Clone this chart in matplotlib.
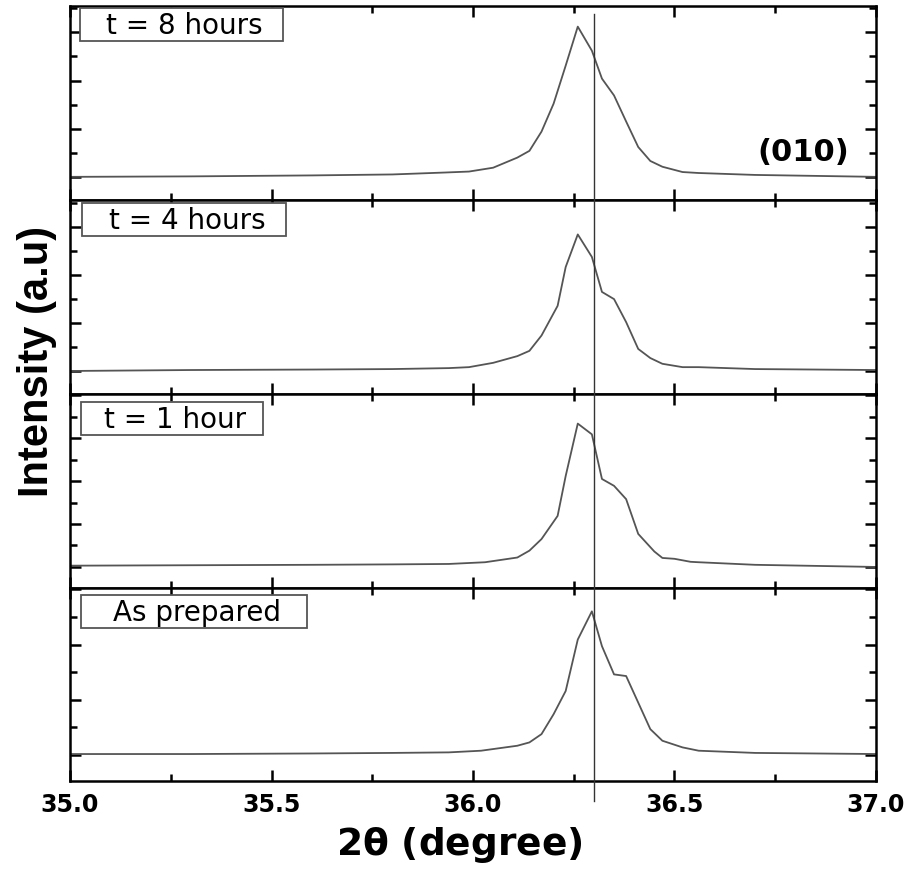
import matplotlib.pyplot as plt
from matplotlib.ticker import MultipleLocator
from matplotlib.patches import Rectangle
import matplotlib.transforms as mtransforms

plt.rcParams['font.family'] = ['DejaVu Sans']

# XRD (010) peak, four annealing times, top to bottom
labels = ['t = 8 hours', 't = 4 hours', 't = 1 hour', 'As prepared']

x_8h = [35.00, 35.30, 35.60, 35.80, 35.93, 35.99, 36.05, 36.11, 36.14, 36.17, 36.20, 36.23,
        36.26, 36.295, 36.32, 36.35, 36.38, 36.41, 36.44, 36.47, 36.52, 36.56, 36.70, 37.00]
y_8h = [0.00, 0.01, 0.03, 0.05, 0.09, 0.11, 0.19, 0.40, 0.54, 0.94, 1.52, 2.31,
        3.12, 2.62, 2.04, 1.69, 1.15, 0.62, 0.33, 0.21, 0.10, 0.08, 0.04, 0.00]

x_4h = [35.00, 35.30, 35.60, 35.80, 35.94, 35.99, 36.05, 36.11, 36.14, 36.17, 36.21, 36.23,
        36.26, 36.295, 36.32, 36.35, 36.38, 36.41, 36.44, 36.47, 36.52, 36.56, 36.70, 37.00]
y_4h = [0.00, 0.02, 0.03, 0.04, 0.06, 0.08, 0.17, 0.31, 0.42, 0.74, 1.36, 2.17,
        2.85, 2.38, 1.65, 1.50, 1.02, 0.46, 0.27, 0.15, 0.08, 0.08, 0.04, 0.02]

x_1h = [35.00, 35.30, 35.60, 35.80, 35.94, 36.03, 36.11, 36.14, 36.17, 36.21, 36.23, 36.26,
        36.295, 36.32, 36.35, 36.38, 36.41, 36.45, 36.47, 36.50, 36.54, 36.56, 36.70, 37.00]
y_1h = [0.03, 0.04, 0.05, 0.06, 0.07, 0.11, 0.22, 0.38, 0.65, 1.19, 2.12, 3.34,
        3.09, 2.05, 1.89, 1.58, 0.77, 0.36, 0.21, 0.19, 0.12, 0.11, 0.05, 0.00]

x_0h = [35.00, 35.30, 35.60, 35.80, 35.94, 36.02, 36.11, 36.14, 36.17, 36.20, 36.23, 36.26,
        36.295, 36.32, 36.35, 36.38, 36.41, 36.44, 36.47, 36.52, 36.56, 36.70, 37.00]
y_0h = [0.02, 0.02, 0.03, 0.04, 0.05, 0.08, 0.17, 0.23, 0.38, 0.74, 1.16, 2.09,
        2.60, 1.97, 1.46, 1.43, 0.95, 0.47, 0.26, 0.14, 0.08, 0.04, 0.02]

xs = [x_8h, x_4h, x_1h, x_0h]
ys = [y_8h, y_4h, y_1h, y_0h]
ylims = [(-0.48, 3.54), (-0.48, 3.56), (-0.49, 4.02), (-0.47, 3.03)]
ref_pos = 36.30

fig = plt.figure(figsize=(9.07, 8.70), dpi=100)

left, width = 0.0772, 0.8886
bottoms = [0.769, 0.546, 0.323, 0.101]
height = 0.2225
# label boxes in axes fraction: x0, y0, w, h
boxes = [(0.0124, 0.819, 0.252, 0.171),
         (0.0149, 0.814, 0.253, 0.171),
         (0.0136, 0.789, 0.226, 0.170),
         (0.0136, 0.793, 0.280, 0.166)]

axes = []
for i in range(4):
    ax = fig.add_axes([left, bottoms[i], width, height])
    ax.plot(xs[i], ys[i], color='#555555', lw=1.3)
    ax.set_xlim(35.0, 37.0)
    ax.set_ylim(*ylims[i])
    ax.xaxis.set_major_locator(MultipleLocator(0.5))
    ax.xaxis.set_minor_locator(MultipleLocator(0.25))
    ax.yaxis.set_major_locator(MultipleLocator(1))
    ax.yaxis.set_minor_locator(MultipleLocator(0.5))
    ax.tick_params(which='both', direction='in', top=True, right=True, width=1.8)
    ax.tick_params(which='major', length=8)
    ax.tick_params(which='minor', length=5)
    ax.tick_params(axis='y', labelleft=False)
    for s in ax.spines.values():
        s.set_linewidth(1.8)
    if i < 3:
        ax.tick_params(axis='x', labelbottom=False)
    else:
        ax.tick_params(axis='x', labelsize=17, pad=8)
        for t in ax.get_xticklabels():
            t.set_fontweight('bold')
    bx, by, bw, bh = boxes[i]
    ax.add_patch(Rectangle((bx, by), bw, bh, transform=ax.transAxes,
                           fc='white', ec='#555555', lw=1.3, zorder=3))
    ax.text(bx + bw / 2 + 0.004, by + bh / 2, labels[i], transform=ax.transAxes,
            ha='center', va='center', fontsize=20, zorder=4)
    axes.append(ax)

axes[0].text(0.91, 0.25, '(010)', transform=axes[0].transAxes, ha='center', va='center',
             fontsize=22, fontweight='bold')

# reference line through all panels
trans = mtransforms.blended_transform_factory(axes[0].transData, fig.transFigure)
fig.add_artist(plt.Line2D([ref_pos, ref_pos], [0.983, 0.078], transform=trans,
                          color='#333333', lw=1.0))

fig.text(0.506, 0.029, r'2$\mathregular{\theta}$ (degree)', ha='center', va='center',
         fontsize=27, fontweight='bold')
fig.text(0.041, 0.584, 'Intensity (a.u)', rotation=90, ha='center', va='center',
         fontsize=30, fontweight='bold', family=['Liberation Sans', 'DejaVu Sans'])

plt.savefig('out.png', dpi=100)
